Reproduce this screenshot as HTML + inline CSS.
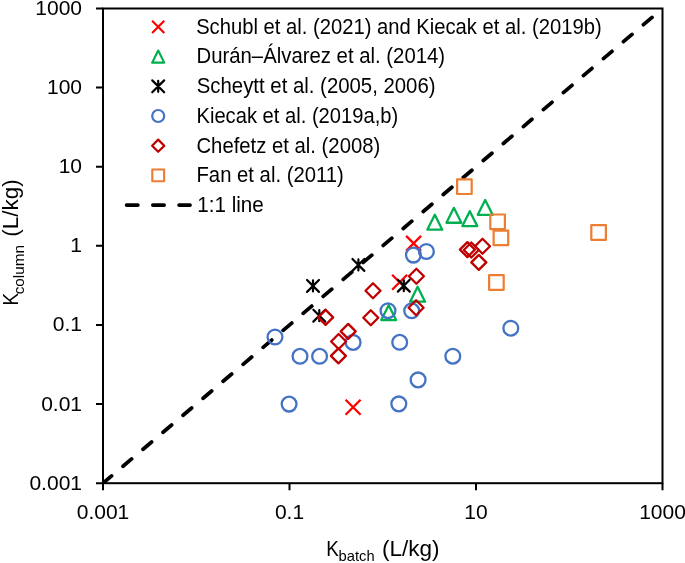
<!DOCTYPE html>
<html><head><meta charset="utf-8"><style>html,body{margin:0;padding:0;background:#fff;overflow:hidden}svg{display:block;will-change:transform}</style></head>
<body><svg width="685" height="563" viewBox="0 0 685 563"><rect x="0" y="0" width="685" height="563" fill="#fff"/><defs><clipPath id="pc"><rect x="103" y="8.5" width="559.5" height="474.7"/></clipPath></defs><line x1="103" y1="483.2" x2="662.5" y2="8.5" stroke="#000" stroke-width="3.75" stroke-dasharray="11.25 15" stroke-linecap="round" clip-path="url(#pc)"/><rect x="103" y="8.5" width="559.5" height="474.7" fill="none" stroke="#000" stroke-width="2"/><path d="M96,483.20H103 M96,404.08H103 M96,324.97H103 M96,245.85H103 M96,166.73H103 M96,87.62H103 M96,8.50H103 M103.00,483.2V490.2 M289.50,483.2V490.2 M476.00,483.2V490.2 M662.50,483.2V490.2" stroke="#000" stroke-width="2" fill="none"/><path d="M392.10,274.80L407.10,289.80M392.10,289.80L407.10,274.80" stroke="#FF0000" stroke-width="2.3" fill="none"/><path d="M406.10,235.90L421.10,250.90M406.10,250.90L421.10,235.90" stroke="#FF0000" stroke-width="2.3" fill="none"/><path d="M345.60,399.70L360.60,414.70M345.60,414.70L360.60,399.70" stroke="#FF0000" stroke-width="2.3" fill="none"/><path d="M388.70,305.15L396.15,320.05L381.25,320.05Z" stroke="#00B050" stroke-width="2.3" fill="none" stroke-linejoin="round"/><path d="M417.60,286.75L425.05,301.65L410.15,301.65Z" stroke="#00B050" stroke-width="2.3" fill="none" stroke-linejoin="round"/><path d="M434.80,214.75L442.25,229.65L427.35,229.65Z" stroke="#00B050" stroke-width="2.3" fill="none" stroke-linejoin="round"/><path d="M453.90,207.85L461.35,222.75L446.45,222.75Z" stroke="#00B050" stroke-width="2.3" fill="none" stroke-linejoin="round"/><path d="M469.80,211.15L477.25,226.05L462.35,226.05Z" stroke="#00B050" stroke-width="2.3" fill="none" stroke-linejoin="round"/><path d="M485.20,199.95L492.65,214.85L477.75,214.85Z" stroke="#00B050" stroke-width="2.3" fill="none" stroke-linejoin="round"/><path d="M307.05,279.95L318.95,291.85M307.05,291.85L318.95,279.95M313.00,280.40L313.00,291.40" stroke="#000000" stroke-width="2.2" stroke-linecap="round" fill="none"/><path d="M313.35,309.75L325.25,321.65M313.35,321.65L325.25,309.75M319.30,310.20L319.30,321.20" stroke="#000000" stroke-width="2.2" stroke-linecap="round" fill="none"/><path d="M352.45,258.95L364.35,270.85M352.45,270.85L364.35,258.95M358.40,259.40L358.40,270.40" stroke="#000000" stroke-width="2.2" stroke-linecap="round" fill="none"/><path d="M397.85,279.75L409.75,291.65M397.85,291.65L409.75,279.75M403.80,280.20L403.80,291.20" stroke="#000000" stroke-width="2.2" stroke-linecap="round" fill="none"/><circle cx="275.00" cy="337.00" r="7.40" stroke="#4472C4" stroke-width="2.3" fill="none"/><circle cx="300.00" cy="356.30" r="7.40" stroke="#4472C4" stroke-width="2.3" fill="none"/><circle cx="319.60" cy="356.30" r="7.40" stroke="#4472C4" stroke-width="2.3" fill="none"/><circle cx="289.10" cy="404.10" r="7.40" stroke="#4472C4" stroke-width="2.3" fill="none"/><circle cx="353.10" cy="342.40" r="7.40" stroke="#4472C4" stroke-width="2.3" fill="none"/><circle cx="388.00" cy="310.70" r="7.40" stroke="#4472C4" stroke-width="2.3" fill="none"/><circle cx="411.70" cy="310.80" r="7.40" stroke="#4472C4" stroke-width="2.3" fill="none"/><circle cx="399.70" cy="342.30" r="7.40" stroke="#4472C4" stroke-width="2.3" fill="none"/><circle cx="398.80" cy="403.90" r="7.40" stroke="#4472C4" stroke-width="2.3" fill="none"/><circle cx="418.10" cy="379.90" r="7.40" stroke="#4472C4" stroke-width="2.3" fill="none"/><circle cx="413.40" cy="255.10" r="7.40" stroke="#4472C4" stroke-width="2.3" fill="none"/><circle cx="426.40" cy="251.50" r="7.40" stroke="#4472C4" stroke-width="2.3" fill="none"/><circle cx="452.80" cy="356.20" r="7.40" stroke="#4472C4" stroke-width="2.3" fill="none"/><circle cx="510.80" cy="328.20" r="7.40" stroke="#4472C4" stroke-width="2.3" fill="none"/><path d="M325.60,309.90L333.10,317.40L325.60,324.90L318.10,317.40Z" stroke="#C00000" stroke-width="2.3" fill="none" stroke-linejoin="round"/><path d="M348.20,323.90L355.70,331.40L348.20,338.90L340.70,331.40Z" stroke="#C00000" stroke-width="2.3" fill="none" stroke-linejoin="round"/><path d="M338.60,334.00L346.10,341.50L338.60,349.00L331.10,341.50Z" stroke="#C00000" stroke-width="2.3" fill="none" stroke-linejoin="round"/><path d="M338.40,348.40L345.90,355.90L338.40,363.40L330.90,355.90Z" stroke="#C00000" stroke-width="2.3" fill="none" stroke-linejoin="round"/><path d="M373.00,283.30L380.50,290.80L373.00,298.30L365.50,290.80Z" stroke="#C00000" stroke-width="2.3" fill="none" stroke-linejoin="round"/><path d="M370.80,310.20L378.30,317.70L370.80,325.20L363.30,317.70Z" stroke="#C00000" stroke-width="2.3" fill="none" stroke-linejoin="round"/><path d="M416.40,268.70L423.90,276.20L416.40,283.70L408.90,276.20Z" stroke="#C00000" stroke-width="2.3" fill="none" stroke-linejoin="round"/><path d="M416.10,300.20L423.60,307.70L416.10,315.20L408.60,307.70Z" stroke="#C00000" stroke-width="2.3" fill="none" stroke-linejoin="round"/><path d="M467.40,242.10L474.90,249.60L467.40,257.10L459.90,249.60Z" stroke="#C00000" stroke-width="2.3" fill="none" stroke-linejoin="round"/><path d="M471.30,242.50L478.80,250.00L471.30,257.50L463.80,250.00Z" stroke="#C00000" stroke-width="2.3" fill="none" stroke-linejoin="round"/><path d="M482.50,238.70L490.00,246.20L482.50,253.70L475.00,246.20Z" stroke="#C00000" stroke-width="2.3" fill="none" stroke-linejoin="round"/><path d="M478.80,254.90L486.30,262.40L478.80,269.90L471.30,262.40Z" stroke="#C00000" stroke-width="2.3" fill="none" stroke-linejoin="round"/><rect x="457.10" y="179.40" width="14.60" height="14.60" stroke="#ED7D31" stroke-width="2.1999999999999997" fill="none" stroke-linejoin="round"/><rect x="490.30" y="214.50" width="14.60" height="14.60" stroke="#ED7D31" stroke-width="2.1999999999999997" fill="none" stroke-linejoin="round"/><rect x="493.60" y="230.60" width="14.60" height="14.60" stroke="#ED7D31" stroke-width="2.1999999999999997" fill="none" stroke-linejoin="round"/><rect x="489.10" y="275.20" width="14.60" height="14.60" stroke="#ED7D31" stroke-width="2.1999999999999997" fill="none" stroke-linejoin="round"/><rect x="591.30" y="225.20" width="14.60" height="14.60" stroke="#ED7D31" stroke-width="2.1999999999999997" fill="none" stroke-linejoin="round"/><text x="82" y="489.70" text-anchor="end" font-size="21" font-family="Liberation Sans, sans-serif">0.001</text><text x="82" y="410.58" text-anchor="end" font-size="21" font-family="Liberation Sans, sans-serif">0.01</text><text x="82" y="331.47" text-anchor="end" font-size="21" font-family="Liberation Sans, sans-serif">0.1</text><text x="82" y="252.35" text-anchor="end" font-size="21" font-family="Liberation Sans, sans-serif">1</text><text x="82" y="173.23" text-anchor="end" font-size="21" font-family="Liberation Sans, sans-serif">10</text><text x="82" y="94.12" text-anchor="end" font-size="21" font-family="Liberation Sans, sans-serif">100</text><text x="82" y="15.00" text-anchor="end" font-size="21" font-family="Liberation Sans, sans-serif">1000</text><text x="103.00" y="518.5" text-anchor="middle" font-size="21" font-family="Liberation Sans, sans-serif">0.001</text><text x="289.50" y="518.5" text-anchor="middle" font-size="21" font-family="Liberation Sans, sans-serif">0.1</text><text x="476.00" y="518.5" text-anchor="middle" font-size="21" font-family="Liberation Sans, sans-serif">10</text><text x="662.50" y="518.5" text-anchor="middle" font-size="21" font-family="Liberation Sans, sans-serif">1000</text><path d="M152.12,20.82L164.27,32.98M152.12,32.98L164.27,20.82" stroke="#FF0000" stroke-width="2.2" fill="none"/><text x="196.14" y="33.70" font-size="21.5" font-family="Liberation Sans, sans-serif" textLength="405.52" lengthAdjust="spacingAndGlyphs">Schubl et al. (2021) and Kiecak et al. (2019b)</text><path d="M158.20,50.57L164.23,62.63L152.17,62.63Z" stroke="#00B050" stroke-width="2.2" fill="none" stroke-linejoin="round"/><text x="196.46" y="63.40" font-size="21.5" font-family="Liberation Sans, sans-serif" textLength="248.66" lengthAdjust="spacingAndGlyphs">Durán–Álvarez et al. (2014)</text><path d="M152.25,80.35L164.15,92.25M152.25,92.25L164.15,80.35M158.20,80.80L158.20,91.80" stroke="#000000" stroke-width="2.2" stroke-linecap="round" fill="none"/><text x="196.78" y="93.10" font-size="21.5" font-family="Liberation Sans, sans-serif" textLength="238.78" lengthAdjust="spacingAndGlyphs">Scheytt et al. (2005, 2006)</text><circle cx="158.20" cy="116.00" r="5.99" stroke="#4472C4" stroke-width="2.2" fill="none"/><text x="196.46" y="122.80" font-size="21.5" font-family="Liberation Sans, sans-serif" textLength="201.74" lengthAdjust="spacingAndGlyphs">Kiecak et al. (2019a,b)</text><path d="M158.20,139.62L164.27,145.70L158.20,151.77L152.12,145.70Z" stroke="#C00000" stroke-width="2.2" fill="none" stroke-linejoin="round"/><text x="196.46" y="152.50" font-size="21.5" font-family="Liberation Sans, sans-serif" textLength="183.78" lengthAdjust="spacingAndGlyphs">Chefetz et al. (2008)</text><rect x="152.29" y="169.49" width="11.83" height="11.83" stroke="#ED7D31" stroke-width="2.1" fill="none" stroke-linejoin="round"/><text x="196.46" y="182.20" font-size="21.5" font-family="Liberation Sans, sans-serif" textLength="147.40" lengthAdjust="spacingAndGlyphs">Fan et al. (2011)</text><line x1="126.6" y1="205.10" x2="190" y2="205.10" stroke="#000" stroke-width="3.75" stroke-dasharray="11.25 15" stroke-linecap="round"/><text x="197.26" y="211.90" font-size="21.5" font-family="Liberation Sans, sans-serif" textLength="66.52" lengthAdjust="spacingAndGlyphs">1:1 line</text><text x="326.30" y="555.8" font-size="22.5" font-family="Liberation Sans, sans-serif" textLength="12.60" lengthAdjust="spacingAndGlyphs">K</text><text x="338.60" y="561.3" font-size="14.2" font-family="Liberation Sans, sans-serif" textLength="36.00" lengthAdjust="spacingAndGlyphs">batch</text><text x="382.00" y="555.8" font-size="22.5" font-family="Liberation Sans, sans-serif" textLength="57.50" lengthAdjust="spacingAndGlyphs">(L/kg)</text><g transform="rotate(-90)"><text x="-305.60" y="18.1" font-size="22.5" font-family="Liberation Sans, sans-serif" textLength="12.60" lengthAdjust="spacingAndGlyphs">K</text><text x="-294.30" y="24.2" font-size="15.3" font-family="Liberation Sans, sans-serif" textLength="49.20" lengthAdjust="spacingAndGlyphs">column</text><text x="-236.80" y="18.1" font-size="22.5" font-family="Liberation Sans, sans-serif" textLength="57.50" lengthAdjust="spacingAndGlyphs">(L/kg)</text></g></svg></body></html>
